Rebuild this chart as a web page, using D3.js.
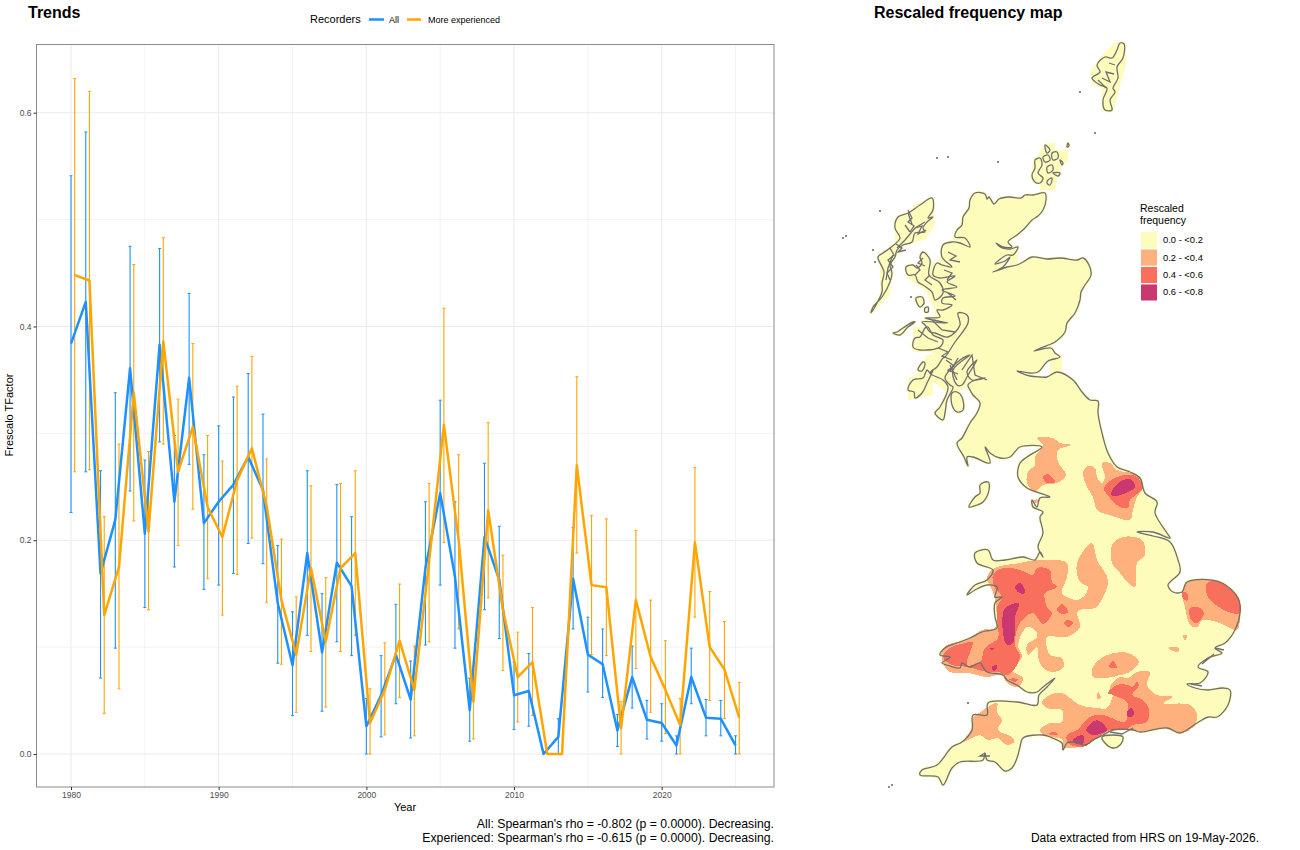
<!DOCTYPE html>
<html>
<head>
<meta charset="utf-8">
<script src="https://cdn.jsdelivr.net/npm/d3@7/dist/d3.min.js"></script>
<style>
html,body{margin:0;padding:0;background:#fff}
svg{display:block}
text{font-family:"Liberation Sans",Arial,sans-serif}
</style>
</head>
<body>
<svg id="chart" width="1300" height="850"></svg>
<script>
// Annual trend values, 1980-2025
const years = d3.range(1980, 2026);
const allMean = [0.384,0.423,0.169,0.219,0.361,0.206,0.383,0.236,0.352,0.216,0.236,0.252,0.278,0.247,0.141,0.083,0.188,0.095,0.179,0.157,0.026,0.055,0.093,0.051,0.174,0.244,0.166,0.041,0.203,0.163,0.055,0.059,0,0.016,0.164,0.093,0.084,0.022,0.072,0.032,0.029,0.008,0.072,0.034,0.033,0.008];
const allUpper = [0.541,0.582,0.265,0.338,0.475,0.275,0.473,0.298,0.431,0.28,0.307,0.334,0.356,0.318,0.195,0.133,0.265,0.15,0.252,0.222,0.052,0.092,0.14,0.087,0.236,0.331,0.236,0.071,0.272,0.213,0.086,0.094,0,0.033,0.212,0.128,0.117,0.037,0.101,0.05,0.047,0.017,0.099,0.051,0.05,0.017];
const allLower = [0.226,0.264,0.071,0.099,0.246,0.137,0.292,0.175,0.271,0.154,0.158,0.169,0.197,0.178,0.085,0.036,0.111,0.04,0.105,0.092,0,0.016,0.047,0.015,0.102,0.158,0.099,0.012,0.135,0.108,0.023,0.026,0,0,0.117,0.058,0.053,0.007,0.043,0.014,0.012,0,0.047,0.017,0.017,0];
const expMean = [0.448,0.443,0.13,0.175,0.338,0.208,0.386,0.264,0.306,0.231,0.203,0.256,0.286,0.232,0.144,0.093,0.174,0.105,0.174,0.188,0.029,0.06,0.106,0.06,0.18,0.308,0.2,0.049,0.228,0.135,0.072,0.086,0,0,0.27,0.158,0.156,0.024,0.144,0.091,0.06,0.027,0.198,0.1,0.079,0.034];
const expUpper = [0.632,0.62,0.222,0.29,0.458,0.283,0.483,0.332,0.384,0.298,0.274,0.344,0.372,0.276,0.201,0.147,0.251,0.165,0.253,0.265,0.061,0.104,0.159,0.101,0.253,0.417,0.28,0.082,0.31,0.186,0.114,0.137,0,0,0.353,0.223,0.22,0.049,0.209,0.144,0.106,0.052,0.268,0.152,0.124,0.067];
const expLower = [0.264,0.266,0.038,0.061,0.218,0.135,0.29,0.195,0.229,0.164,0.13,0.168,0.202,0.142,0.084,0.039,0.096,0.044,0.096,0.111,0,0.018,0.053,0.017,0.105,0.198,0.117,0.014,0.146,0.078,0.03,0.036,0,0,0.188,0.093,0.092,0,0.08,0.039,0.019,0,0.128,0.05,0.033,0];
const yearTicks = [1980,1990,2000,2010,2020];
const yearMinor = [1985,1995,2005,2015,2025];
const valueTicks = [0,0.2,0.4,0.6];
const valueMinor = [0.1,0.3,0.5];
const footerLines = ["All: Spearman's rho = -0.802 (p = 0.0000). Decreasing.","Experienced: Spearman's rho = -0.615 (p = 0.0000). Decreasing."];

// Map classes and colours
const classLabels = ["0.0 - <0.2","0.2 - <0.4","0.4 - <0.6","0.6 - <0.8"];
const classColours = ["#FDFCBB","#FEB17C","#F86F5D","#C93970"];

// Coastline polygons on a simple national grid (east, north)
const mainland = [[145,607],[155,606],[157,601],[159,603],[164,596],[169,601],[179,603],[191,602],[195,605],[203,605],[215,607],[216,600],[213,590],[208,584],[202,580],[195,572],[187,565],[178,558],[182,553],[173,553],[166,557],[172,552],[180,551],[188,553],[183,545],[177,545],[165,536],[175,539],[180,543],[173,533],[163,528],[177,533],[187,535],[193,538],[202,543],[217,541],[230,542],[247,540],[253,542],[259,535],[261,525],[255,515],[251,508],[250,500],[245,487],[237,477],[235,468],[225,458],[221,456],[204,449],[221,452],[225,447],[230,443],[218,439],[208,428],[200,427],[187,429],[200,424],[210,423],[217,423],[227,428],[243,420],[252,408],[260,400],[268,399],[268,387],[273,363],[278,347],[287,333],[300,328],[310,322],[315,307],[327,298],[325,287],[337,267],[340,262],[323,268],[307,268],[323,264],[340,258],[348,240],[350,228],[338,215],[343,208],[352,208],[357,218],[390,218],[408,202],[410,187],[405,170],[395,157],[385,152],[392,147],[378,142],[368,133],[378,128],[370,117],[357,116],[365,112],[378,110],[393,112],[400,110],[398,95],[387,83],[378,83],[367,77],[350,67],[337,72],[310,68],[303,70],[283,70],[273,65],[263,60],[255,55],[243,58],[237,57],[233,50],[232,57],[220,63],[213,65],[193,62],[190,53],[187,42],[182,32],[175,29],[165,38],[157,40],[155,47],[153,40],[130,38],[122,32],[113,15],[108,23],[90,25],[92,30],[107,35],[122,53],[132,58],[142,70],[143,85],[157,85],[158,97],[187,98],[207,95],[209,105],[217,113],[225,122],[213,113],[207,108],[197,108],[187,115],[177,120],[173,125],[157,128],[153,133],[150,137],[139,133],[132,137],[130,132],[117,135],[112,137],[120,143],[110,145],[115,152],[127,157],[140,162],[152,168],[167,172],[165,183],[165,197],[172,203],[165,203],[167,213],[157,215],[145,210],[137,205],[145,215],[157,220],[163,230],[147,237],[145,247],[158,250],[163,240],[175,240],[193,243],[205,240],[210,248],[213,243],[208,253],[213,267],[210,283],[213,288],[203,293],[202,300],[207,293],[210,302],[220,303],[197,312],[188,323],[190,337],[197,343],[212,353],[190,353],[180,343],[170,342],[160,347],[155,353],[160,337],[143,343],[137,343],[138,334],[134,343],[127,357],[132,362],[140,377],[147,387],[150,397],[143,405],[140,410],[138,415],[145,420],[155,422],[142,420],[137,428],[147,440],[138,425],[132,415],[127,415],[123,430],[140,445],[130,440],[118,428],[115,422],[120,415],[123,413],[117,400],[115,387],[113,380],[105,387],[110,393],[118,413],[113,420],[100,427],[107,433],[113,442],[115,443],[125,458],[138,477],[137,485],[128,487],[130,475],[118,463],[105,467],[100,468],[95,475],[92,478],[118,477],[95,482],[110,483],[107,490],[113,490],[122,495],[112,497],[113,502],[125,504],[112,510],[127,513],[117,518],[125,524],[110,522],[103,525],[107,537],[112,535],[122,533],[112,543],[113,555],[122,558],[130,557],[140,553],[135,562],[125,563],[127,570],[132,575],[133,583],[139,592],[140,600]];
const shetland = [[290,757],[294,756],[293,742],[287,733],[288,722],[283,712],[285,708],[280,700],[282,690],[275,690],[273,700],[277,712],[270,715],[262,722],[270,728],[267,735],[275,743],[282,742],[287,750]];
const orkneyMain = [[205,640],[210,642],[212,635],[208,627],[213,622],[210,617],[205,618],[202,625],[205,632]];
const orkneySmall = [[[213,643],[218,645],[220,640],[215,638]],[[222,647],[227,648],[228,642],[223,640]],[[217,633],[222,635],[223,630],[218,627]],[[230,640],[233,637],[232,635]],[[218,620],[222,622],[220,615],[217,617]],[[223,627],[230,627],[228,624]],[[238,657],[239,654],[237,653]],[[215,655],[220,650],[217,647]]];
const outerHebrides = [[102,602],[103,590],[98,582],[103,583],[97,578],[93,572],[95,568],[85,567],[82,558],[73,555],[67,550],[65,543],[60,535],[62,527],[60,518],[52,503],[43,493],[41,487],[52,508],[52,517],[54,528],[48,543],[53,547],[60,552],[70,562],[65,572],[68,583],[78,587],[90,595]];
const skye = [[93,548],[100,540],[99,525],[110,517],[113,507],[105,500],[102,508],[93,515],[88,518],[85,525],[78,525],[76,533],[83,535],[87,532],[92,537],[90,543]];
const rum = [[86,502],[92,503],[94,497],[90,493],[87,497]];
const eigg = [[95,492],[98,493],[98,488],[95,488]];
const mull = [[83,453],[90,450],[110,453],[113,460],[103,465],[98,473],[95,472],[90,463],[85,462]];
const tiree = [[63,467],[70,465],[78,473],[85,478],[83,478],[73,472],[67,468]];
const jura = [[88,430],[93,438],[95,437],[92,429]];
const islay = [[78,410],[83,420],[93,422],[97,430],[100,427],[103,430],[97,417],[92,407],[85,402],[84,408]];
const arran = [[122,407],[127,408],[132,403],[133,390],[127,388],[122,395]];
const man = [[139,293],[145,303],[150,307],[150,315],[158,318],[159,310],[153,298],[147,295]];
const wight = [[272,63],[283,65],[293,63],[290,55],[283,52],[275,57]];
const islands = [shetland, orkneyMain, ...orkneySmall, outerHebrides, skye, rum, eigg, mull, tiree, jura, islay, arran, man, wight];

// Recorded squares that reach past the drawn coast
const coastSquares = [
  [[207,643],[215,657],[225,657],[225,650],[238,650],[238,638],[233,635],[228,625],[225,610],[210,610],[210,620],[202,620],[202,635]],
  [[65,582],[83,582],[83,595],[102,602],[105,575],[95,560],[75,555],[63,538],[60,505],[45,490],[50,508],[50,545],[65,555]],
  [[77,522],[90,538],[105,538],[115,500],[105,490],[95,510]],
  [[83,473],[115,473],[115,448],[83,448]],
  [[78,422],[103,432],[103,405],[78,400]],
  [[180,555],[188,555],[188,535],[180,535]],
  [[220,445],[232,445],[232,423],[220,423]],
  [[286,758],[296,758],[296,735],[290,715],[284,690],[272,688],[272,712],[262,716],[260,728],[272,745]],
  [[112,555],[125,563],[132,583],[145,607],[150,470],[105,465],[105,520]],
  [[92,480],[130,485],[142,445],[118,425],[100,430],[105,465]],
  [[95,445],[145,450],[155,420],[120,405],[95,425]],
  [[205,456],[222,456],[222,448],[205,448]]
];

// Sea lochs and narrow inlets
const inlets = [
  [[78,587],[82,576]],[[95,578],[85,572],[75,560],[67,552]],[[63,545],[58,532],[56,520]],[[75,575],[80,568]],
  [[60,552],[64,545],[58,540],[63,533],[57,527],[60,520]],[[78,590],[82,582],[78,578],[84,574],[80,568]],
  [[85,572],[92,574],[88,566],[96,570]],[[66,556],[72,552],[68,548],[76,550]],
  [[85,525],[90,530],[86,535]],[[100,525],[95,520],[102,515]],[[93,542],[88,537],[95,534]],
  [[128,442],[120,428]],[[132,430],[142,445],[145,425],[157,420]],[[127,420],[120,435]],[[116,440],[124,434],[118,430],[128,426]],
  [[102,480],[112,470],[125,468]],[[88,470],[98,462],[108,458]],[[108,452],[118,448],[112,444],[122,440]],
  [[118,507],[126,500]],[[114,530],[122,527],[117,520]],[[118,548],[126,544],[120,540],[130,538]],
  [[272,722],[280,718],[276,728],[284,726]],[[285,735],[279,737]],[[268,720],[276,712]],
  [[378,142],[372,136],[384,146]],[[361,116],[372,114]],[[385,152],[394,150]],
  [[155,47],[150,44],[160,44]],[[303,72],[292,66],[280,68]],[[247,60],[252,58]]
];

// Small rocks and outlying islets
const islets = [[13,562],[16,564],[107,642],[118,643],[168,638],[250,708],[265,667],[138,97],[62,15],[59,13],[50,589],[43,550],[45,538],[81,503]];

// Frequency zones, drawn in rising class order
const zonesLow = [
  [[207,362],[223,362],[230,357],[241,355],[228,350],[228,338],[236,325],[227,317],[213,315],[205,308],[197,317],[198,328],[205,335],[205,343],[213,355]],
  [[253,328],[258,334],[265,332],[267,323],[272,317],[275,323],[272,337],[280,337],[287,330],[307,325],[313,313],[307,303],[303,290],[300,280],[280,285],[267,290],[263,303],[257,313]],
  [[282,255],[293,263],[312,260],[315,245],[307,237],[305,213],[298,217],[290,227],[282,237]],
  [[157,223],[165,232],[190,237],[208,240],[237,237],[237,223],[232,207],[247,200],[255,205],[258,213],[250,218],[247,237],[262,257],[267,240],[278,220],[273,203],[265,192],[250,190],[247,187],[250,173],[237,163],[217,163],[220,145],[232,142],[233,132],[223,128],[213,132],[208,142],[207,153],[198,145],[197,155],[207,163],[205,170],[197,173],[188,155],[192,143],[182,130],[193,122],[188,113],[177,117],[172,125],[157,123],[138,127],[120,128],[113,137],[113,152],[140,162],[152,170],[165,172],[165,200],[162,210]],
  [[352,207],[358,218],[390,218],[409,202],[410,187],[407,170],[390,177],[373,180],[367,173],[360,175],[355,193]],
  [[353,165],[357,165],[355,159]],[[338,152],[348,153],[348,148]],[[268,108],[271,102],[267,101]],[[203,300],[210,300],[205,297]],
  [[263,133],[277,145],[298,147],[309,138],[298,127],[290,125],[283,123],[263,123]],
  [[212,98],[220,105],[232,107],[250,95],[267,92],[277,92],[283,107],[280,113],[290,123],[298,122],[307,128],[320,128],[317,115],[327,105],[343,103],[333,97],[360,95],[367,85],[365,75],[352,67],[338,72],[310,69],[290,72],[280,70],[267,62],[257,55],[233,53],[233,60],[213,65],[210,70],[220,77],[232,78],[232,90],[217,92]],
  [[146,85],[167,97],[167,88],[172,80],[168,70],[182,63],[184,58],[177,55],[168,62],[158,60],[150,65],[133,58],[142,72],[143,83]]
];
const zonesMid = [
  [[213,323],[218,326],[225,318],[217,317]],
  [[274,312],[287,323],[303,325],[310,320],[313,312],[300,300],[298,292],[290,293],[280,302]],
  [[163,225],[173,232],[190,230],[203,225],[207,232],[220,230],[222,218],[227,213],[215,207],[217,193],[222,187],[213,176],[203,187],[195,183],[188,173],[185,155],[190,143],[178,125],[168,128],[157,128],[138,133],[122,135],[113,143],[120,152],[140,158],[143,158],[137,135],[150,138],[155,152],[168,162],[168,173],[167,193],[172,203],[165,212]],
  [[227,190],[232,196],[238,188],[232,186]],[[234,177],[238,180],[243,177],[238,173]],[[179,121],[188,121],[185,118]],
  [[377,217],[391,218],[409,200],[410,187],[398,188],[378,203]],
  [[360,192],[368,193],[374,187],[367,177],[361,180]],
  [[352,208],[357,207],[357,199],[353,202]],
  [[279,133],[283,139],[287,132]],
  [[278,107],[287,115],[298,115],[302,113],[307,118],[309,115],[302,105],[313,100],[319,90],[317,78],[303,75],[295,70],[280,70],[267,62],[253,53],[238,57],[237,65],[247,70],[260,83],[273,85],[295,78],[298,92],[297,98],[283,105]],
  [[218,66],[225,68],[228,65]]
];
const zonesHigh = [
  [[281,305],[288,317],[300,321],[305,313],[298,308],[287,304]],
  [[185,213],[190,217],[195,210],[194,206],[188,208]],
  [[174,190],[180,195],[189,197],[185,183],[183,157],[177,155],[173,167]],
  [[162,133],[167,135],[167,131],[163,129]],[[160,152],[164,152],[162,150]],
  [[256,70],[267,80],[277,70],[263,65]],[[243,60],[253,65],[254,57],[247,56]],[[298,90],[302,92],[304,85],[298,83]]
];

const svg = d3.select("#chart");

// ---------- Trends panel ----------
const panel = {left:36.5, right:774, top:44.5, bottom:787};
const x = d3.scaleLinear().domain([1980,2020]).range([71,661.7]);
const y = d3.scaleLinear().domain([0,0.6]).range([754,112.7]);

const grid = svg.append("g");
grid.selectAll(".vMinor").data(yearMinor).join("line").attr("x1",d=>x(d)).attr("x2",d=>x(d))
  .attr("y1",panel.top).attr("y2",panel.bottom).attr("stroke","#ebebeb").attr("stroke-width",0.6);
grid.selectAll(".hMinor").data(valueMinor).join("line").attr("x1",panel.left).attr("x2",panel.right)
  .attr("y1",d=>y(d)).attr("y2",d=>y(d)).attr("stroke","#ebebeb").attr("stroke-width",0.6);
grid.selectAll(".vMajor").data(yearTicks).join("line").attr("x1",d=>x(d)).attr("x2",d=>x(d))
  .attr("y1",panel.top).attr("y2",panel.bottom).attr("stroke","#ebebeb").attr("stroke-width",1.1);
grid.selectAll(".hMajor").data(valueTicks).join("line").attr("x1",panel.left).attr("x2",panel.right)
  .attr("y1",d=>y(d)).attr("y2",d=>y(d)).attr("stroke","#ebebeb").attr("stroke-width",1.1);

const series = [
  {colour:"#1E90FF", shift:0, mean:allMean, up:allUpper, lo:allLower},
  {colour:"#FFA500", shift:0.25, mean:expMean, up:expUpper, lo:expLower}
];
const capHalf = 1.5;
series.forEach(s => {
  const rows = years.map((yr,i)=>({yr:yr+s.shift, m:s.mean[i], u:s.up[i], l:s.lo[i]}));
  const g = svg.append("g").attr("stroke",s.colour).attr("fill","none");
  const bars = rows.filter(r=>r.u>r.l);
  g.selectAll(".bar").data(bars).join("line").attr("x1",d=>x(d.yr)).attr("x2",d=>x(d.yr))
    .attr("y1",d=>y(d.u)).attr("y2",d=>y(d.l)).attr("stroke-width",1.1);
  g.selectAll(".capU").data(bars).join("line").attr("x1",d=>x(d.yr)-capHalf).attr("x2",d=>x(d.yr)+capHalf)
    .attr("y1",d=>y(d.u)).attr("y2",d=>y(d.u)).attr("stroke-width",1);
  g.selectAll(".capL").data(bars).join("line").attr("x1",d=>x(d.yr)-capHalf).attr("x2",d=>x(d.yr)+capHalf)
    .attr("y1",d=>y(d.l)).attr("y2",d=>y(d.l)).attr("stroke-width",1);
  s.rows = rows;
});
const trend = d3.line().x(d=>x(d.yr)).y(d=>y(d.m));
series.forEach(s => {
  svg.append("path").datum(s.rows).attr("d",trend).attr("fill","none")
    .attr("stroke",s.colour).attr("stroke-width",2.5).attr("stroke-linejoin","round");
});

svg.append("rect").attr("x",panel.left).attr("y",panel.top)
  .attr("width",panel.right-panel.left).attr("height",panel.bottom-panel.top)
  .attr("fill","none").attr("stroke","#8a8a8a").attr("stroke-width",1);

const styleAxis = g => {
  g.select(".domain").remove();
  g.selectAll(".tick line").attr("stroke","#333");
  g.selectAll(".tick text").attr("fill","#4d4d4d").style("font-size","8.5px").style("font-family",'"Liberation Sans",Arial,sans-serif');
};
svg.append("g").attr("transform",`translate(0,${panel.bottom})`)
  .call(d3.axisBottom(x).tickValues(yearTicks).tickFormat(d3.format("d")).tickSize(3).tickPadding(2)).call(styleAxis);
svg.append("g").attr("transform",`translate(${panel.left},0)`)
  .call(d3.axisLeft(y).tickValues(valueTicks).tickFormat(d3.format(".1f")).tickSize(3).tickPadding(2)).call(styleAxis);

svg.append("text").attr("x",405).attr("y",811).attr("text-anchor","middle").attr("font-size",11).attr("fill","#000").text("Year");
svg.append("text").attr("transform","translate(13,415) rotate(-90)").attr("text-anchor","middle").attr("font-size",11).attr("fill","#000").text("Frescalo TFactor");

svg.append("text").attr("x",28).attr("y",18).attr("font-size",16).attr("font-weight","bold").attr("fill","#000").text("Trends");
svg.append("text").attr("x",874).attr("y",18).attr("font-size",16).attr("font-weight","bold").attr("fill","#000").text("Rescaled frequency map");

// Recorder key above the panel
svg.append("text").attr("x",310).attr("y",23).attr("font-size",11).attr("fill","#000").text("Recorders");
const recorderKey = [{label:"All",colour:"#1E90FF",x1:369,x2:384,tx:389},{label:"More experienced",colour:"#FFA500",x1:407,x2:421,tx:428}];
recorderKey.forEach(k=>{
  svg.append("line").attr("x1",k.x1).attr("x2",k.x2).attr("y1",19.5).attr("y2",19.5).attr("stroke",k.colour).attr("stroke-width",2.5);
  svg.append("text").attr("x",k.tx).attr("y",23).attr("font-size",9).attr("fill","#000").text(k.label);
});

footerLines.forEach((t,i)=>{
  svg.append("text").attr("x",774).attr("y",828+i*14).attr("text-anchor","end").attr("font-size",12.25).attr("fill","#000").text(t);
});
svg.append("text").attr("x",1259).attr("y",842).attr("text-anchor","end").attr("font-size",12).attr("fill","#000").text("Data extracted from HRS on 19-May-2026.");

// ---------- Frequency map ----------
const mapX = d3.scaleLinear().domain([0,470]).range([830,1300]);
const mapY = d3.scaleLinear().domain([0,760]).range([800,40]);
const straight = d3.line().x(d=>mapX(d[0])).y(d=>mapY(d[1])).curve(d3.curveLinearClosed);
const outline = d3.line().x(d=>mapX(d[0])).y(d=>mapY(d[1])).curve(d3.curveCatmullRomClosed.alpha(0.5));
const openLine = d3.line().x(d=>mapX(d[0])).y(d=>mapY(d[1]));

const mapG = svg.append("g");
const land = [mainland, ...islands];
mapG.selectAll(".cover").data(coastSquares).join("path").attr("d",straight).attr("fill",classColours[0]).attr("shape-rendering","crispEdges");
mapG.selectAll(".base").data(land).join("path").attr("d",outline).attr("fill",classColours[0])
  .attr("stroke",classColours[0]).attr("stroke-width",3).attr("stroke-linejoin","round");
[zonesLow,zonesMid,zonesHigh].forEach((zones,i)=>{
  mapG.selectAll(".zone"+i).data(zones).join("path").attr("d",outline).attr("fill",classColours[i+1]).attr("shape-rendering","crispEdges");
});
mapG.selectAll(".coast").data(land).join("path").attr("d",outline).attr("fill","none")
  .attr("stroke","#6f6f6f").attr("stroke-width",1.3).attr("stroke-linejoin","round");
mapG.selectAll(".inlet").data(inlets).join("path").attr("d",openLine).attr("fill","none")
  .attr("stroke","#6f6f6f").attr("stroke-width",1.3);
mapG.selectAll(".islet").data(islets).join("circle").attr("cx",d=>mapX(d[0])).attr("cy",d=>mapY(d[1])).attr("r",1.1).attr("fill","#6f6f6f");

// Map legend
svg.append("text").attr("x",1140).attr("y",212).attr("font-size",10.5).attr("fill","#000").text("Rescaled");
svg.append("text").attr("x",1140).attr("y",224).attr("font-size",10.5).attr("fill","#000").text("frequency");
const keyY = d3.scaleBand().domain(classLabels).range([232,300.5]).paddingInner(0.08);
svg.selectAll(".swatch").data(classLabels).join("rect").attr("x",1141).attr("y",d=>keyY(d))
  .attr("width",16).attr("height",keyY.bandwidth()).attr("fill",(d,i)=>classColours[i]);
svg.selectAll(".swatchLabel").data(classLabels).join("text").attr("x",1163).attr("y",d=>keyY(d)+keyY.bandwidth()/2+3)
  .attr("font-size",9.4).attr("fill","#000").text(d=>d);
</script>
</body>
</html>
